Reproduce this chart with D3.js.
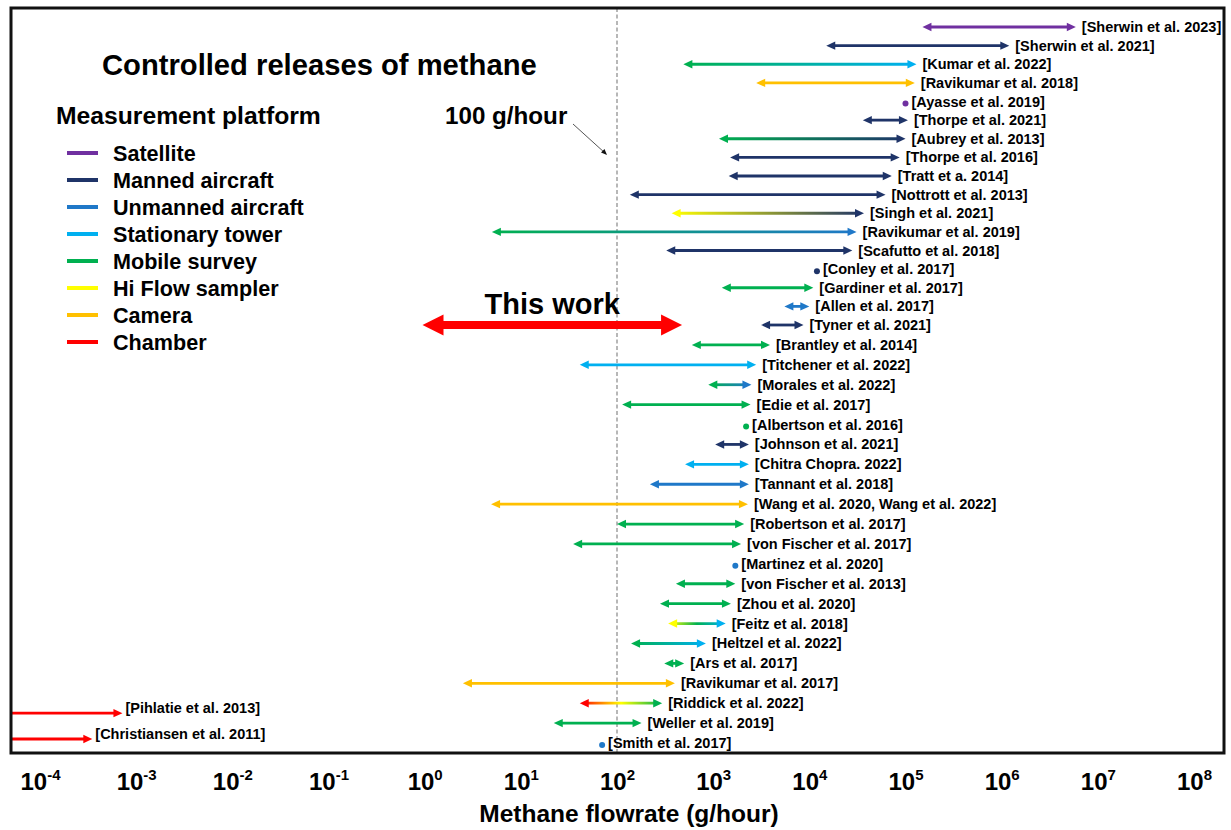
<!DOCTYPE html>
<html>
<head>
<meta charset="utf-8">
<script src="https://cdn.jsdelivr.net/npm/d3@7"></script>
<style>
  body { margin: 0; background: #fff; }
  text { font-family: "Liberation Sans", Arial, sans-serif; font-weight: bold; fill: #000; }
</style>
</head>
<body>
<div id="chart"></div>
<script>
// platforms and their colours
var platforms = ["Satellite", "Manned aircraft", "Unmanned aircraft", "Stationary tower",
                 "Mobile survey", "Hi Flow sampler", "Camera", "Chamber"];
var platformColors = ["#7030A0", "#1F3468", "#1F78C8", "#00B0F0",
                      "#00B050", "#FFFF00", "#FFC000", "#FF0000"];

// studies, top to bottom
var studies = ["Sherwin et al. 2023", "Sherwin et al. 2021", "Kumar et al. 2022", "Ravikumar et al. 2018",
  "Ayasse et al. 2019", "Thorpe et al. 2021", "Aubrey et al. 2013", "Thorpe et al. 2016", "Tratt et a. 2014",
  "Nottrott et al. 2013", "Singh et al. 2021", "Ravikumar et al. 2019", "Scafutto et al. 2018",
  "Conley et al. 2017", "Gardiner et al. 2017", "Allen et al. 2017", "Tyner et al. 2021",
  "Brantley et al. 2014", "Titchener et al. 2022", "Morales et al. 2022", "Edie et al. 2017",
  "Albertson et al. 2016", "Johnson et al. 2021", "Chitra Chopra. 2022", "Tannant et al. 2018",
  "Wang et al. 2020, Wang et al. 2022", "Robertson et al. 2017", "von Fischer et al. 2017",
  "Martinez et al. 2020", "von Fischer et al. 2013", "Zhou et al. 2020", "Feitz et al. 2018",
  "Heltzel et al. 2022", "Ars et al. 2017", "Ravikumar et al. 2017", "Riddick et al. 2022",
  "Weller et al. 2019", "Smith et al. 2017"];

// lowest and highest release rate tested (g/hour)
var lowFlow = [1.5e5, 1.5e4, 490, 2800, 1e5, 3.6e4, 1150, 1500, 1450, 136, 370, 5, 325, 1.2e4, 1230,
  5500, 3150, 600, 41, 890, 113, 2200, 1050, 510, 220, 4.9, 100, 35, 1700, 410, 280, 340, 140, 310,
  2.5, 41, 22, 70];
var highFlow = [5.9e6, 1.2e6, 1.3e5, 1.25e5, 1e5, 1.06e5, 1e5, 8.7e4, 7.2e4, 6.2e4, 3.7e4, 3.1e4,
  2.8e4, 1.2e4, 1.1e4, 1e4, 8700, 3900, 2800, 2500, 2450, 2200, 2350, 2350, 2350, 2300, 2100, 1950,
  1700, 1700, 1530, 1350, 840, 500, 400, 295, 180, 70];

// platform(s) of each study, ">" = colour blends along the arrow
var studyPlatform = ["Satellite", "Manned aircraft", "Mobile survey>Stationary tower", "Camera",
  "Satellite", "Manned aircraft", "Mobile survey>Manned aircraft", "Manned aircraft", "Manned aircraft",
  "Manned aircraft", "Hi Flow sampler>Manned aircraft", "Mobile survey>Unmanned aircraft",
  "Manned aircraft", "Manned aircraft", "Mobile survey", "Unmanned aircraft", "Manned aircraft",
  "Mobile survey", "Stationary tower", "Mobile survey>Unmanned aircraft", "Mobile survey",
  "Mobile survey", "Manned aircraft", "Stationary tower", "Unmanned aircraft", "Camera",
  "Mobile survey", "Mobile survey", "Unmanned aircraft", "Mobile survey", "Mobile survey",
  "Hi Flow sampler>Mobile survey>Stationary tower", "Mobile survey>Stationary tower", "Mobile survey",
  "Camera", "Chamber>Hi Flow sampler>Mobile survey", "Mobile survey", "Unmanned aircraft"];

// chamber studies, open ended on the low side
var chamberStudies = ["Pihlatie et al. 2013", "Christiansen et al. 2011"];
var chamberHigh = [7.2e-4, 3.5e-4];
var chamberRow = [35.5, 36.8];

// this work
var thisWork = [0.95, 475];
var thisWorkRow = 16;

var tickPowers = [-4, -3, -2, -1, 0, 1, 2, 3, 4, 5, 6, 7, 8];

// set the specs
var width = 1231;
var height = 830;
var frameLeft = 11, frameRight = 1224, frameTop = 8, frameBottom = 753;

var svg = d3.select("#chart")
            .append("svg")
            .attr("width", width)
            .attr("height", height);

var xScale = d3.scaleLog()
               .domain([1e-4, 1e8])
               .range([40, 1194]);

// rows are not evenly spaced in the original, so a two-piece scale
var yScale = d3.scaleLinear()
               .domain([0, 16, 37])
               .range([27, 325, 743]);

var colorScale = d3.scaleOrdinal().domain(platforms).range(platformColors);

var defs = svg.append("defs");
defs.append("clipPath").attr("id", "frameClip")
    .append("rect")
    .attr("x", frameLeft).attr("y", frameTop)
    .attr("width", frameRight - frameLeft).attr("height", frameBottom - frameTop);

// 100 g/hour dashed line
svg.append("line")
   .attr("x1", xScale(100)).attr("x2", xScale(100))
   .attr("y1", frameTop).attr("y2", frameBottom)
   .attr("stroke", "#888").attr("stroke-width", 1.2)
   .attr("stroke-dasharray", "4,2.5");

var marks = svg.append("g").attr("clip-path", "url(#frameClip)");

var headLen = 9, headHalf = 4.2, lineW = 2.8;

function headPath(xTip, y, dir, len, half) {
  return "M" + xTip + "," + y + "L" + (xTip - dir * len) + "," + (y - half) +
         "L" + (xTip - dir * len) + "," + (y + half) + "Z";
}

studies.forEach(function(name, i) {
  var y = yScale(i);
  var x0 = xScale(lowFlow[i]);
  var x1 = xScale(highFlow[i]);
  var cols = studyPlatform[i].split(">").map(function(p){ return colorScale(p); });

  if (lowFlow[i] === highFlow[i]) {
    marks.append("circle")
         .attr("cx", x1).attr("cy", y + 2).attr("r", 3)
         .attr("fill", cols[0]);
  } else {
    var stroke = cols[0];
    if (cols.length > 1) {
      var grad = defs.append("linearGradient")
                     .attr("id", "grad" + i)
                     .attr("gradientUnits", "userSpaceOnUse")
                     .attr("x1", x0).attr("x2", x1).attr("y1", 0).attr("y2", 0);
      cols.forEach(function(c, k) {
        grad.append("stop").attr("offset", k / (cols.length - 1)).attr("stop-color", c);
      });
      stroke = "url(#grad" + i + ")";
    }
    marks.append("line")
         .attr("x1", x0 + headLen - 1).attr("x2", x1 - headLen + 1)
         .attr("y1", y).attr("y2", y)
         .attr("stroke", stroke).attr("stroke-width", lineW);
    marks.append("path").attr("d", headPath(x0, y, -1, headLen, headHalf)).attr("fill", cols[0]);
    marks.append("path").attr("d", headPath(x1, y, 1, headLen, headHalf)).attr("fill", cols[cols.length - 1]);
  }

  svg.append("text")
     .attr("x", x1 + 6).attr("y", y + 5)
     .attr("font-size", 14.5)
     .text("[" + name + "]");
});

// chamber studies
chamberStudies.forEach(function(name, i) {
  var y = yScale(chamberRow[i]);
  var x1 = xScale(chamberHigh[i]);
  marks.append("line")
       .attr("x1", frameLeft).attr("x2", x1 - headLen + 1)
       .attr("y1", y).attr("y2", y)
       .attr("stroke", colorScale("Chamber")).attr("stroke-width", lineW);
  marks.append("path").attr("d", headPath(x1, y, 1, headLen, headHalf)).attr("fill", colorScale("Chamber"));
  svg.append("text")
     .attr("x", x1 + 3).attr("y", y)
     .attr("font-size", 14.5)
     .text("[" + name + "]");
});

// this work
var twY = yScale(thisWorkRow);
var twX0 = xScale(thisWork[0]), twX1 = xScale(thisWork[1]);
marks.append("line")
     .attr("x1", twX0 + 18).attr("x2", twX1 - 18)
     .attr("y1", twY).attr("y2", twY)
     .attr("stroke", "#FF0000").attr("stroke-width", 8);
marks.append("path").attr("d", headPath(twX0, twY, -1, 21, 10.5)).attr("fill", "#FF0000");
marks.append("path").attr("d", headPath(twX1, twY, 1, 21, 10.5)).attr("fill", "#FF0000");
svg.append("text")
   .attr("x", (twX0 + twX1) / 2).attr("y", twY - 11)
   .attr("text-anchor", "middle")
   .attr("font-size", 29)
   .text("This work");

// frame
svg.append("rect")
   .attr("x", frameLeft).attr("y", frameTop)
   .attr("width", frameRight - frameLeft).attr("height", frameBottom - frameTop)
   .attr("fill", "none").attr("stroke", "#111").attr("stroke-width", 3);

// x axis
var xAxis = d3.axisBottom(xScale)
              .tickValues(tickPowers.map(function(p){ return Math.pow(10, p); }))
              .tickSize(0);

var axisG = svg.append("g")
   .attr("transform", "translate(0," + frameBottom + ")")
   .call(xAxis);
axisG.select(".domain").remove();
axisG.selectAll(".tick text").each(function(d, i) {
  var t = d3.select(this);
  t.text(null).attr("y", 37).attr("dy", 0)
   .attr("font-size", 24).attr("fill", "#000")
   .attr("font-family", "Liberation Sans, Arial, sans-serif").attr("font-weight", "bold");
  t.append("tspan").text("10");
  t.append("tspan").attr("dy", -10).attr("font-size", 15).text(String(tickPowers[i]));
});

svg.append("text")
   .attr("x", 629).attr("y", 822)
   .attr("text-anchor", "middle")
   .attr("font-size", 24.5)
   .text("Methane flowrate (g/hour)");

// titles
svg.append("text")
   .attr("x", 102).attr("y", 75)
   .attr("font-size", 29.2)
   .text("Controlled releases of methane");

svg.append("text")
   .attr("x", 56).attr("y", 124)
   .attr("font-size", 24.7)
   .text("Measurement platform");

svg.append("text")
   .attr("x", 445).attr("y", 124)
   .attr("font-size", 24.2)
   .text("100 g/hour");

// annotation pointer to the 100 g/hour line
var annX = xScale(100) - 10;
svg.append("line")
   .attr("x1", annX - 34).attr("y1", 124)
   .attr("x2", annX - 2).attr("y2", 153)
   .attr("stroke", "#555").attr("stroke-width", 1);
svg.append("path")
   .attr("d", "M" + annX + "," + 155 + "l-6,-2.5l3.5,-3.5z")
   .attr("fill", "#111");

// legend
var legend = svg.append("g").attr("transform", "translate(67,153)");
var legendItems = legend.selectAll("g")
   .data(platforms)
   .enter()
   .append("g")
   .attr("transform", function(d, i){ return "translate(0," + (i * 27) + ")"; });
legendItems.append("line")
   .attr("x1", 0).attr("x2", 31)
   .attr("y1", 0).attr("y2", 0)
   .attr("stroke", function(d){ return colorScale(d); })
   .attr("stroke-width", 4);
legendItems.append("text")
   .attr("x", 46).attr("y", 8)
   .attr("font-size", 21.6)
   .text(function(d){ return d; });
</script>
</body>
</html>
